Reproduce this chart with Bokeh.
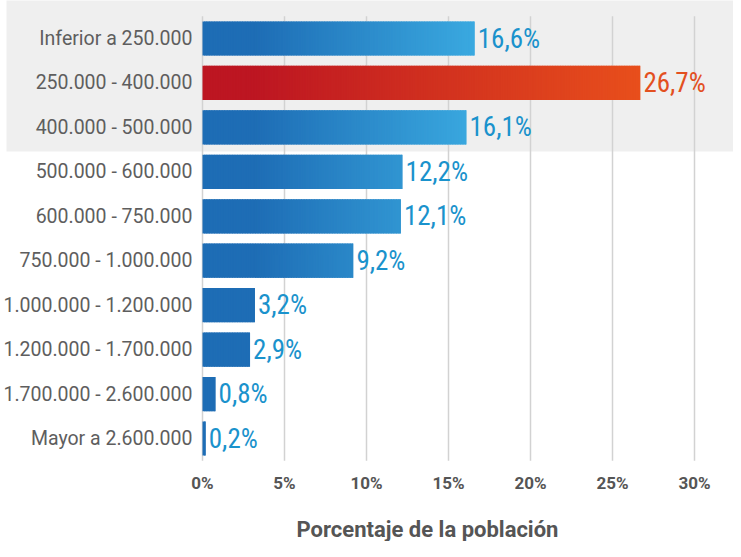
import numpy as np
from bokeh.plotting import figure
from bokeh.models import Range1d
from bokeh.core.properties import value
from bokeh.embed import file_html
from bokeh.resources import INLINE

# ---------------- data ----------------
categories = [
    "Inferior a 250.000",
    "250.000 - 400.000",
    "400.000 - 500.000",
    "500.000 - 600.000",
    "600.000 - 750.000",
    "750.000 - 1.000.000",
    "1.000.000 - 1.200.000",
    "1.200.000 - 1.700.000",
    "1.700.000 - 2.600.000",
    "Mayor a 2.600.000",
]
values = [16.6, 26.7, 16.1, 12.2, 12.1, 9.2, 3.2, 2.9, 0.8, 0.2]
value_labels = ["16,6%", "26,7%", "16,1%", "12,2%", "12,1%", "9,2%", "3,2%", "2,9%", "0,8%", "0,2%"]
highlight = [False, True, False, False, False, False, False, False, False, False]
shaded_rows = [0, 1, 2]
ticks = [0, 5, 10, 15, 20, 25, 30]
tick_labels = ["0%", "5%", "10%", "15%", "20%", "25%", "30%"]
axis_title = "Porcentaje de la población"

# ---------------- style ----------------
BLUE_DARK, BLUE_LIGHT = "#1e6db5", "#3aa9e0"
RED_DARK, RED_LIGHT = "#bd1622", "#e84f1c"
LABEL_BLUE, LABEL_RED = "#1a92cc", "#e3501f"
COND_FONT = value("'Roboto Condensed', 'Liberation Sans Narrow', 'DejaVu Sans Condensed', Roboto, sans-serif")

W, H = 733, 541
# pixel geometry of the reference (page coords)
X0_PX, PX_PER_PCT = 210.0, 16.4
Y0_PX, PX_PER_ROW = 46.0, 400.0 / 9.0


def hex2rgb(h):
    h = h.lstrip("#")
    return np.array([int(h[i:i + 2], 16) for i in (0, 2, 4)], dtype=float)


def mix(c0, c1, t):
    c = hex2rgb(c0) * (1 - t) + hex2rgb(c1) * t
    return "#%02x%02x%02x" % tuple(int(round(v)) for v in c)


rows = list(range(len(categories)))

p = figure(
    width=W, height=H,
    x_range=Range1d((8 - X0_PX) / PX_PER_PCT, (8 + W - X0_PX) / PX_PER_PCT),
    y_range=Range1d((8 + H - Y0_PX) / PX_PER_ROW, (8 - Y0_PX) / PX_PER_ROW),
    x_axis_location=None, y_axis_location=None,
    toolbar_location=None, output_backend="svg",
    min_border=0, outline_line_color=None,
    background_fill_color="white", border_fill_color="white",
)
p.grid.visible = False

# gray band behind the first rows
p.quad(left=(14 - X0_PX) / PX_PER_PCT, right=(8 + W - X0_PX) / PX_PER_PCT + 1,
       top=shaded_rows[0] - 0.9, bottom=shaded_rows[-1] + 0.54,
       fill_color="#efefef", line_color=None)

# vertical grid lines
p.segment(x0=ticks, y0=-0.5, x1=ticks, y1=9.5, line_color="#d2d2d2", line_width=1.5)

# gradient bars, built of thin overlapping slices
blue_max = max(v for v, h in zip(values, highlight) if not h)
red_max = max(v for v, h in zip(values, highlight) if h)
G_START = 3.2
STEP = 0.1
lefts, rights, ys, cols = [], [], [], []
for r, v, h in zip(rows, values, highlight):
    n = max(1, int(np.ceil(v / STEP)))
    edges = np.linspace(0, v, n + 1)
    for a, b in zip(edges[:-1], edges[1:]):
        m = 0.5 * (a + b)
        if h:
            t = np.clip((m - G_START) / (red_max - G_START), 0, 1)
            c = mix(RED_DARK, RED_LIGHT, t)
        else:
            t = np.clip((m - G_START) / (blue_max - G_START), 0, 1)
            c = mix(BLUE_DARK, BLUE_LIGHT, t)
        lefts.append(a); rights.append(min(b + 0.07, v)); ys.append(r); cols.append(c)

p.hbar(y=ys, left=lefts, right=rights, height=0.77,
       fill_color=cols, line_color=None)

# value labels
p.text(x=values, y=rows, text=value_labels, x_offset=3,
       text_align="left", text_baseline="middle",
       text_font=COND_FONT, text_font_size="27px",
       text_color=[LABEL_RED if h else LABEL_BLUE for h in highlight])

# category labels
p.text(x=[0] * len(rows), y=rows, text=categories, x_offset=-10,
       text_align="right", text_baseline="middle",
       text_font=value("Roboto"), text_font_size="19.5px", text_color="#5e5e5e")

# x tick labels
p.text(x=ticks, y=[10.0] * len(ticks), text=tick_labels,
       text_align="center", text_baseline="middle",
       text_font=value("Roboto"), text_font_style="bold",
       text_font_size="17px", text_color="#555555")

# axis title
p.text(x=[(435 - X0_PX) / PX_PER_PCT], y=[(537 - Y0_PX) / PX_PER_ROW], text=[axis_title],
       text_align="center", text_baseline="middle",
       text_font=value("Roboto"), text_font_style="bold",
       text_font_size="22px", text_color="#555555")

open("out.html", "w").write(file_html(p, INLINE))
